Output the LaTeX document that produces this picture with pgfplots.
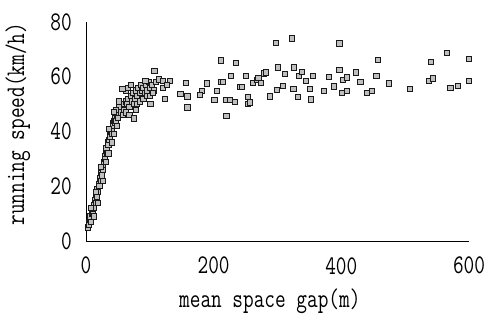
\documentclass[border=0pt]{standalone}
\usepackage{fontspec}
\setmainfont{Latin Modern Mono}[FakeStretch=0.77]
\usepackage{pgfplots}
\pgfplotsset{compat=1.18}
\begin{document}
\begin{tikzpicture}
\useasboundingbox (0,0) rectangle (488bp,323bp);
\begin{axis}[
  at={(86bp,82bp)}, anchor=south west,
  scale only axis, width=383bp, height=219bp,
  xmin=0, xmax=600, ymin=0, ymax=80,
  axis x line*=bottom, axis y line*=left,
  axis line style={line width=1bp, black, -},
  xtick={0,200,400,600}, ytick={0,20,40,60,80},
  major tick length=0pt,
  /pgf/number format/assume math mode=true,
  tick label style={font=\fontsize{27}{30}\selectfont, inner sep=0pt},
  xticklabel style={anchor=north, yshift=-16bp},
  yticklabel style={anchor=east, xshift=-14bp},
  xlabel={mean space gap(m)},
  ylabel={running speed(km/h)},
  label style={font=\fontsize{27}{30}\selectfont},
  xlabel style={at={(axis description cs:0.48,0)}, anchor=base, yshift=-66bp, inner sep=0pt},
  ylabel style={at={(axis description cs:-0.178,0.534)}, anchor=center, inner sep=0pt},
  clip=false,
]
\addplot[only marks, mark=square*, mark size=2.6bp,
  mark options={fill=gray!50, draw=black!90, line width=0.8bp}]
coordinates {
(3,5)(4,7)(5,6)(6,8)(7,9)(8,7)(9,10)(10,11)(11,10)(12,13)(13,12)(14,15)(15,14)
(16,17)(17,16)(18,19)(19,18)(20,21)(21,20)(22,23)(23,22)(24,25)(25,24)(26,27)
(27,26)(28,29)(29,31)(30,30)(31,33)(32,34)(33,32)(34,36)(35,35)(36,37)(37,39)
(38,38)(39,40)(40,41)(41,39)(42,43)(43,42)(44,44)(45,43)(46,45)(47,44)(48,46)
(50,45)(51,47)(53,48)(55,47)(56,49)(58,50)(60,48)(62,51)(64,50)(66,52)(68,49)
(70,53)(72,51)(74,54)(76,52)(78,55)(80,53)(82,56)(84,54)(86,57)(88,55)(90,56)
(92,54)(94,57)(96,55)(98,58)(100,56)(103,57)(106,55)(109,58)
(8,12)(12,9)(15,18)(19,14)(23,27)(27,22)(31,29)(35,32)(36,41)(40,36)(44,39)
(48,42)(52,49)(47,48)(58,46)(63,47)
(62,55)(66,56)(70,57)(75,50)(80,50)(85,51)(90,52)(95,53)(100,53)(105,54)(68,46)(78,48)
(57,55.6)(52,51)(75,44.8)(44,47.1)(93,58.6)(107,62)(114,59)(120,58.6)(132,58.6)
(120,56)(123,52)(101,50)(148,53.6)(127,57)
(157,57.8)(159,52.8)(159,48.8)(181,54.7)(179,53.4)(189,57.6)(205,54.8)(201,51.6)
(211,66)(212,58)(215,58)(220,51.6)(220,45.6)(226,51.4)(227,60.3)(233,50.8)(235,65.2)
(241,56.4)(244,56.2)(250,60.4)(254,52.5)(254,50.2)(257,50.6)(262,57.9)(268,58.9)
(270,59.5)(274,57.9)(279,61.2)(282,61.6)(288,52.8)(298,72.3)(299,55.2)(301,63.4)
(309,56.8)(312,60.9)(322,74)(325,55.6)(326,63.4)(332,52.5)(333,60.4)(338,61.8)
(345,58.6)(351,55.6)(352,51.7)(355,60.4)(373,54.7)(380,60)(388,56.5)(397,72.2)
(397,62.6)(401,54)(403,58.8)(409,59.8)(409,54.7)(423,61.6)(430,58)(440,54)
(448,54.7)(455,60.4)(457,66.2)(474,57.6)(508,55.6)(537,58.6)(540,65.5)(544,59.4)
(565,68.6)(571,55.9)(582,56.8)(600,66.4)(600,58.6)
};
\end{axis}
\end{tikzpicture}
\end{document}
